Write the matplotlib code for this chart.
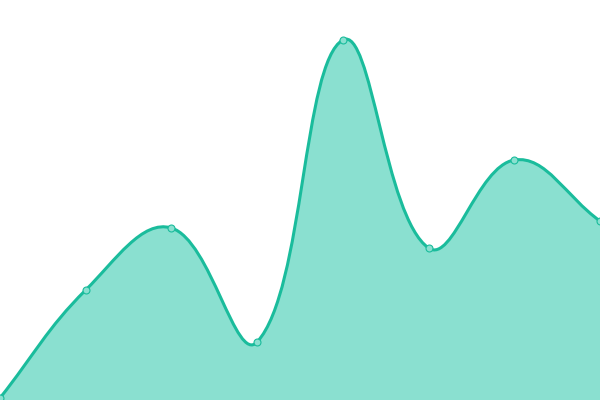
import matplotlib
matplotlib.use("Agg")
import matplotlib.pyplot as plt
import numpy as np
from matplotlib.path import Path
from matplotlib.patches import PathPatch

labels = ["A", "B", "C", "D", "E", "F", "G", "H"]
values = [2, 110, 172, 58, 360, 152, 240, 179]

LINE = "#1abc9c"
FILL = "#8ae0d0"

fig = plt.figure(figsize=(6, 4), dpi=100)
ax = fig.add_axes([0, 0, 1, 1])
ax.set_xlim(0, len(values) - 1)
ax.set_ylim(0, 400)
ax.axis("off")

x = np.arange(len(values), dtype=float)
y = np.array(values, dtype=float)
pts = ax.transData.transform(np.column_stack([x, y]))
inv = ax.transData.inverted()

t = 0.4
n = len(pts)
cps_prev = []
cps_next = []
for i in range(n):
    prev = pts[i - 1] if i > 0 else pts[i]
    cur = pts[i]
    nxt = pts[i + 1] if i < n - 1 else pts[i]
    d01 = np.hypot(*(cur - prev))
    d12 = np.hypot(*(nxt - cur))
    tot = d01 + d12
    s01 = d01 / tot if tot else 0
    s12 = d12 / tot if tot else 0
    fa = t * s01
    fb = t * s12
    cps_prev.append(cur - fa * (nxt - prev))
    cps_next.append(cur + fb * (nxt - prev))

verts = [pts[0]]
codes = [Path.MOVETO]
for i in range(n - 1):
    verts += [cps_next[i], cps_prev[i + 1], pts[i + 1]]
    codes += [Path.CURVE4] * 3
verts_d = inv.transform(np.array(verts))

line_path = Path(verts_d, codes)
fill_verts = list(verts_d) + [[x[-1], 0], [x[0], 0], verts_d[0]]
fill_codes = codes + [Path.LINETO, Path.LINETO, Path.CLOSEPOLY]
ax.add_patch(PathPatch(Path(fill_verts, fill_codes), facecolor=FILL, edgecolor="none", zorder=1))
ax.add_patch(PathPatch(line_path, facecolor="none", edgecolor=LINE, lw=2.2, zorder=2))
ax.plot(x, y, "o", ms=5, mfc=FILL, mec=LINE, mew=0.8, zorder=3, clip_on=False)

fig.savefig("out.png", dpi=100)
